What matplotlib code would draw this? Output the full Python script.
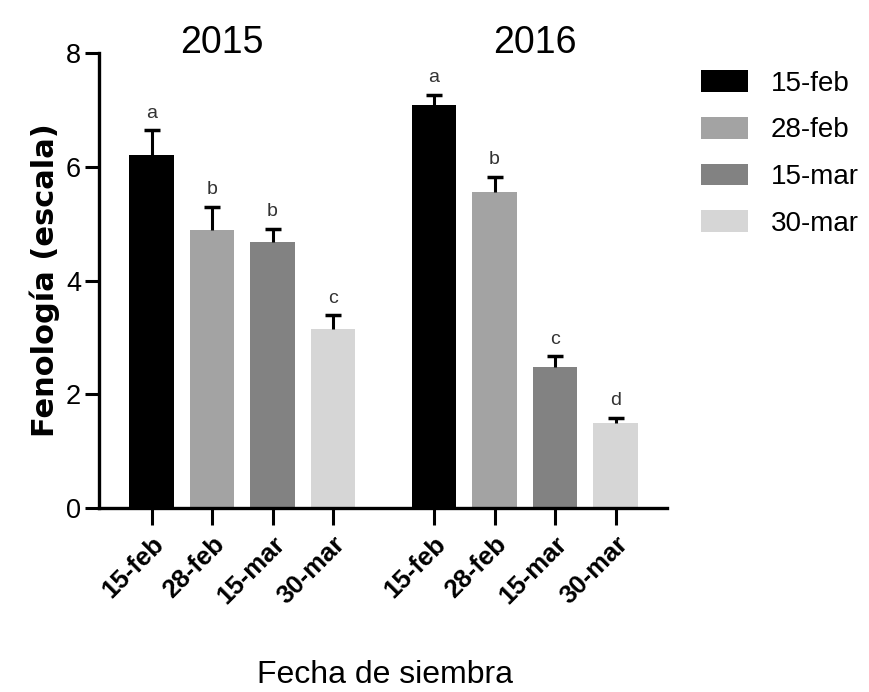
import matplotlib
matplotlib.use('Agg')
import matplotlib.pyplot as plt

# datos
years = ['2015', '2016']
fechas = ['15-feb', '28-feb', '15-mar', '30-mar']
media_2015 = [6.21, 4.89, 4.68, 3.15]
error_2015 = [0.43, 0.41, 0.23, 0.24]
letras_2015 = ['a', 'b', 'b', 'c']
media_2016 = [7.08, 5.55, 2.48, 1.50]
error_2016 = [0.19, 0.27, 0.19, 0.09]
letras_2016 = ['a', 'b', 'c', 'd']

colores = ['#000000', '#a3a3a3', '#828282', '#d6d6d6']

plt.rcParams['font.family'] = ['Liberation Sans', 'DejaVu Sans']

fig = plt.figure(figsize=(8.69, 6.92), dpi=100)
ax = fig.add_axes([0.1139, 0.2659, 0.6537, 0.6575])

gap = 4.67  # desplazamiento del segundo año
ancho = 0.74
pos = []
for i, f in enumerate(fechas):
    x = [i, i + gap]
    pos += x
    medias = [media_2015[i], media_2016[i]]
    errores = [error_2015[i], error_2016[i]]
    ax.bar(x, medias, width=ancho, color=colores[i], label=f, zorder=2)
    eb = ax.errorbar(x, medias, yerr=[[0, 0], errores],
                     fmt='none', ecolor='black', elinewidth=2.2, capsize=6,
                     capthick=2.5, zorder=3)
    eb[1][0].set_visible(False)  # solo la barra de error hacia arriba
    for xx, m, e, l in zip(x, medias, errores,
                           [letras_2015[i], letras_2016[i]]):
        ax.annotate(l, (xx, m + e), xytext=(0, 9), textcoords='offset points',
                    ha='center', va='baseline', fontsize=14, color='#333333')

ax.set_xticks(sorted(pos))
ax.set_xticklabels(fechas + fechas, rotation=45, ha='right',
                   rotation_mode='anchor', fontsize=18.5, fontweight='bold')
ax.set_xlim(-0.868, 8.52)
ax.set_ylim(0, 8)
ax.set_yticks([0, 2, 4, 6, 8])
ax.tick_params(axis='y', labelsize=19.5, length=10, width=2.2, pad=3)
ax.tick_params(axis='x', length=12, width=2.2, pad=5)

for s in ['top', 'right']:
    ax.spines[s].set_visible(False)
for s in ['left', 'bottom']:
    ax.spines[s].set_linewidth(2.4)

ax.text(1.16, 8, years[0], ha='center', va='baseline', fontsize=27)
ax.text(6.33, 8, years[1], ha='center', va='baseline', fontsize=27)

ax.set_ylabel('Fenología (escala)', fontsize=22, fontweight='bold',
              family=['DejaVu Sans'], va='center')
ax.yaxis.set_label_coords(-0.0946, 0.5)

fig.text(385 / 869, 1 - 683 / 692, 'Fecha de siembra', ha='center',
         va='baseline', fontsize=23)

ax.legend(loc='upper left', bbox_to_anchor=(701 / 869, 1 - 70 / 692),
          bbox_transform=fig.transFigure, frameon=False, fontsize=20,
          handlelength=1.7, handleheight=0.83, handletextpad=0.8,
          labelspacing=0.73, borderpad=0, borderaxespad=0)

plt.savefig('out.png', dpi=100)
